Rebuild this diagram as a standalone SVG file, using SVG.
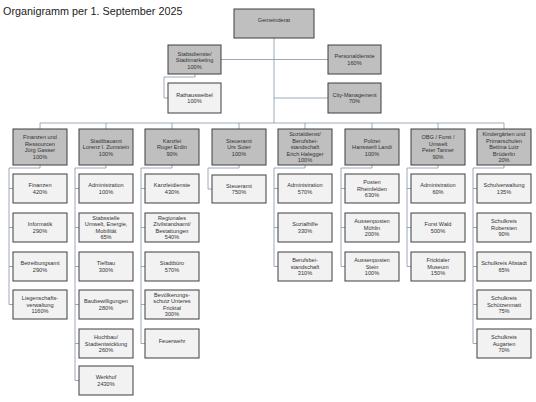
<svg xmlns="http://www.w3.org/2000/svg" width="536" height="402" viewBox="0 0 536 402">
<style>
.h{fill:#bfbfbf;stroke:#3f3f3f;stroke-width:1}
.s{fill:#f2f2f2;stroke:#3f3f3f;stroke-width:1}
.t{font-family:"Liberation Sans",Arial,sans-serif;font-size:5.6px;fill:#333;text-anchor:middle}
.c{fill:none;stroke:#8394aa;stroke-width:0.8}
</style>
<rect width="536" height="402" fill="#fff"/>
<text x="3" y="15" font-family="Liberation Sans, Arial, sans-serif" font-size="10.8" fill="#222">Organigramm per 1. September 2025</text>
<g id="connectors">
<path class="c" d="M274 38V123M40 123H504M40 123V129M106 123V129M172 123V129M239 123V129M305 123V129M372 123V129M438 123V129M504 123V129"/>
<path class="c" d="M221 59.5H328M274 98H328M195 74V77H164V98H168"/>
<path class="c" d="M40 165V168H9V304.5M9 188.5H13M9 227.5H13M9 266.5H13M9 304.5H13"/>
<path class="c" d="M106 165V168H75V380.5M75 188.5H79M75 227.5H79M75 266.5H79M75 304.5H79M75 343.5H79M75 380.5H79"/>
<path class="c" d="M172 165V168H141V343.5M141 188.5H145M141 227.5H145M141 266.5H145M141 304.5H145M141 343.5H145"/>
<path class="c" d="M239 165V168H208V189H212"/>
<path class="c" d="M305 165V168H274V266.5M274 188.5H278M274 227.5H278M274 266.5H278"/>
<path class="c" d="M372 165V168H341V266.5M341 188.5H345M341 227.5H345M341 266.5H345"/>
<path class="c" d="M438 165V168H407V266.5M407 188.5H411M407 227.5H411M407 266.5H411"/>
<path class="c" d="M504 165V168H473V343.5M473 188.5H477M473 227.5H477M473 266.5H477M473 304.5H477M473 343.5H477"/>
</g>
<g id="gemeinderat"><rect class="h" x="234" y="9" width="80" height="29"/><text class="t"><tspan x="274" y="22">Gemeinderat</tspan></text></g>
<g id="stabsdienste"><rect class="h" x="168" y="45" width="53" height="29"/><text class="t"><tspan x="194.5" y="55.5">Stabsdienste/</tspan><tspan x="194.5" y="62">Stadtmarketing</tspan><tspan x="194.5" y="68.5">100%</tspan></text></g>
<g id="personaldienste"><rect class="h" x="328" y="45" width="53" height="29"/><text class="t"><tspan x="354.5" y="58.3">Personaldienste</tspan><tspan x="354.5" y="64.8">160%</tspan></text></g>
<g id="rathausweibel"><rect class="s" x="168" y="83" width="53" height="30"/><text class="t"><tspan x="194.5" y="96.8">Rathausweibel</tspan><tspan x="194.5" y="103.3">100%</tspan></text></g>
<g id="citymanagement"><rect class="h" x="328" y="83" width="53" height="30"/><text class="t"><tspan x="354.5" y="96.8">City-Management</tspan><tspan x="354.5" y="103.3">70%</tspan></text></g>

<g id="finanzen-head"><rect class="h" x="13" y="129" width="54" height="36"/><text class="t"><tspan x="40" y="139.25">Finanzen und</tspan><tspan x="40" y="145.75">Ressourcen</tspan><tspan x="40" y="152.25">Jürg Gasser</tspan><tspan x="40" y="158.75">100%</tspan></text></g>
<g id="finanzen"><rect class="s" x="13" y="174" width="54" height="29"/><text class="t"><tspan x="40" y="187.25">Finanzen</tspan><tspan x="40" y="193.75">420%</tspan></text></g>
<g id="informatik"><rect class="s" x="13" y="213" width="54" height="29"/><text class="t"><tspan x="40" y="226.25">Informatik</tspan><tspan x="40" y="232.75">290%</tspan></text></g>
<g id="betreibungsamt"><rect class="s" x="13" y="252" width="54" height="29"/><text class="t"><tspan x="40" y="265.25">Betreibungsamt</tspan><tspan x="40" y="271.75">290%</tspan></text></g>
<g id="liegenschaften"><rect class="s" x="13" y="290" width="54" height="29"/><text class="t"><tspan x="40" y="300">Liegenschafts-</tspan><tspan x="40" y="306.5">verwaltung</tspan><tspan x="40" y="313">1160%</tspan></text></g>

<g id="stadtbauamt-head"><rect class="h" x="79" y="129" width="54" height="36"/><text class="t"><tspan x="106" y="142.5">Stadtbauamt</tspan><tspan x="106" y="149">Lorenz I. Zumstein</tspan><tspan x="106" y="155.5">100%</tspan></text></g>
<g id="sba-admin"><rect class="s" x="79" y="174" width="54" height="29"/><text class="t"><tspan x="106" y="187.25">Administration</tspan><tspan x="106" y="193.75">100%</tspan></text></g>
<g id="stabsstelle"><rect class="s" x="79" y="213" width="54" height="29"/><text class="t"><tspan x="106" y="219.75">Stabsstelle</tspan><tspan x="106" y="226.25">Umwelt, Energie,</tspan><tspan x="106" y="232.75">Mobilität</tspan><tspan x="106" y="239.25">65%</tspan></text></g>
<g id="tiefbau"><rect class="s" x="79" y="252" width="54" height="29"/><text class="t"><tspan x="106" y="265.25">Tiefbau</tspan><tspan x="106" y="271.75">300%</tspan></text></g>
<g id="baubewilligungen"><rect class="s" x="79" y="290" width="54" height="29"/><text class="t"><tspan x="106" y="303.25">Baubewilligungen</tspan><tspan x="106" y="309.75">280%</tspan></text></g>
<g id="hochbau"><rect class="s" x="79" y="329" width="54" height="29"/><text class="t"><tspan x="106" y="339">Hochbau/</tspan><tspan x="106" y="345.5">Stadtentwicklung</tspan><tspan x="106" y="352">260%</tspan></text></g>
<g id="werkhof"><rect class="s" x="79" y="366" width="54" height="29"/><text class="t"><tspan x="106" y="379.25">Werkhof</tspan><tspan x="106" y="385.75">2430%</tspan></text></g>

<g id="kanzlei-head"><rect class="h" x="145" y="129" width="54" height="36"/><text class="t"><tspan x="172" y="142.5">Kanzlei</tspan><tspan x="172" y="149">Roger Erdin</tspan><tspan x="172" y="155.5">90%</tspan></text></g>
<g id="kanzleidienste"><rect class="s" x="145" y="174" width="54" height="29"/><text class="t"><tspan x="172" y="187.25">Kanzleidienste</tspan><tspan x="172" y="193.75">430%</tspan></text></g>
<g id="zivilstandsamt"><rect class="s" x="145" y="213" width="54" height="29"/><text class="t"><tspan x="172" y="219.75">Regionales</tspan><tspan x="172" y="226.25">Zivilstandsamt/</tspan><tspan x="172" y="232.75">Bestattungen</tspan><tspan x="172" y="239.25">540%</tspan></text></g>
<g id="stadtbuero"><rect class="s" x="145" y="252" width="54" height="29"/><text class="t"><tspan x="172" y="265.25">Stadtbüro</tspan><tspan x="172" y="271.75">570%</tspan></text></g>
<g id="bevoelkerungsschutz"><rect class="s" x="145" y="290" width="54" height="29"/><text class="t"><tspan x="172" y="296.75">Bevölkerungs-</tspan><tspan x="172" y="303.25">schutz Unteres</tspan><tspan x="172" y="309.75">Fricktal</tspan><tspan x="172" y="316.25">300%</tspan></text></g>
<g id="feuerwehr"><rect class="s" x="145" y="329" width="54" height="29"/><text class="t"><tspan x="172" y="343">Feuerwehr</tspan></text></g>

<g id="steueramt-head"><rect class="h" x="212" y="129" width="54" height="36"/><text class="t"><tspan x="239" y="142.5">Steueramt</tspan><tspan x="239" y="149">Urs Suter</tspan><tspan x="239" y="155.5">100%</tspan></text></g>
<g id="steueramt"><rect class="s" x="212" y="175" width="54" height="28"/><text class="t"><tspan x="239" y="187.75">Steueramt</tspan><tspan x="239" y="194.25">750%</tspan></text></g>

<g id="sozialdienst-head"><rect class="h" x="278" y="129" width="54" height="36"/><text class="t"><tspan x="305" y="136">Sozialdienst/</tspan><tspan x="305" y="142.5">Berufsbei-</tspan><tspan x="305" y="149">standschaft</tspan><tspan x="305" y="155.5">Erich Halegger</tspan><tspan x="305" y="162">100%</tspan></text></g>
<g id="soz-admin"><rect class="s" x="278" y="174" width="54" height="29"/><text class="t"><tspan x="305" y="187.25">Administration</tspan><tspan x="305" y="193.75">570%</tspan></text></g>
<g id="sozialhilfe"><rect class="s" x="278" y="213" width="54" height="29"/><text class="t"><tspan x="305" y="226.25">Sozialhilfe</tspan><tspan x="305" y="232.75">330%</tspan></text></g>
<g id="berufsbeistandschaft"><rect class="s" x="278" y="252" width="54" height="29"/><text class="t"><tspan x="305" y="262">Berufsbei-</tspan><tspan x="305" y="268.5">standschaft</tspan><tspan x="305" y="275">310%</tspan></text></g>

<g id="polizei-head"><rect class="h" x="345" y="129" width="54" height="36"/><text class="t"><tspan x="372" y="142.5">Polizei</tspan><tspan x="372" y="149">Hanswerli Landi</tspan><tspan x="372" y="155.5">100%</tspan></text></g>
<g id="rheinfelden"><rect class="s" x="345" y="174" width="54" height="29"/><text class="t"><tspan x="372" y="184">Posten</tspan><tspan x="372" y="190.5">Rheinfelden</tspan><tspan x="372" y="197">630%</tspan></text></g>
<g id="moehlin"><rect class="s" x="345" y="213" width="54" height="29"/><text class="t"><tspan x="372" y="223">Aussenposten</tspan><tspan x="372" y="229.5">Möhlin</tspan><tspan x="372" y="236">200%</tspan></text></g>
<g id="stein"><rect class="s" x="345" y="252" width="54" height="29"/><text class="t"><tspan x="372" y="262">Aussenposten</tspan><tspan x="372" y="268.5">Stein</tspan><tspan x="372" y="275">100%</tspan></text></g>

<g id="obg-head"><rect class="h" x="411" y="129" width="54" height="36"/><text class="t"><tspan x="438" y="139.25">OBG / Forst /</tspan><tspan x="438" y="145.75">Umwelt</tspan><tspan x="438" y="152.25">Peter Tanner</tspan><tspan x="438" y="158.75">90%</tspan></text></g>
<g id="obg-admin"><rect class="s" x="411" y="174" width="54" height="29"/><text class="t"><tspan x="438" y="187.25">Administration</tspan><tspan x="438" y="193.75">60%</tspan></text></g>
<g id="forstwald"><rect class="s" x="411" y="213" width="54" height="29"/><text class="t"><tspan x="438" y="226.25">Forst Wald</tspan><tspan x="438" y="232.75">500%</tspan></text></g>
<g id="museum"><rect class="s" x="411" y="252" width="54" height="29"/><text class="t"><tspan x="438" y="262">Fricktaler</tspan><tspan x="438" y="268.5">Museum</tspan><tspan x="438" y="275">150%</tspan></text></g>

<g id="kindergaerten-head"><rect class="h" x="477" y="129" width="54" height="36"/><text class="t"><tspan x="504" y="136">Kindergärten und</tspan><tspan x="504" y="142.5">Primarschulen</tspan><tspan x="504" y="149">Bettina Lutz</tspan><tspan x="504" y="155.5">Brüderlin</tspan><tspan x="504" y="162">20%</tspan></text></g>
<g id="schulverwaltung"><rect class="s" x="477" y="174" width="54" height="29"/><text class="t"><tspan x="504" y="187.25">Schulverwaltung</tspan><tspan x="504" y="193.75">135%</tspan></text></g>
<g id="robersten"><rect class="s" x="477" y="213" width="54" height="29"/><text class="t"><tspan x="504" y="223">Schulkreis</tspan><tspan x="504" y="229.5">Robersten</tspan><tspan x="504" y="236">90%</tspan></text></g>
<g id="altstadt"><rect class="s" x="477" y="252" width="54" height="29"/><text class="t"><tspan x="504" y="265.25">Schulkreis Altstadt</tspan><tspan x="504" y="271.75">65%</tspan></text></g>
<g id="schuetzenmatt"><rect class="s" x="477" y="290" width="54" height="29"/><text class="t"><tspan x="504" y="300">Schulkreis</tspan><tspan x="504" y="306.5">Schützenmatt</tspan><tspan x="504" y="313">75%</tspan></text></g>
<g id="augarten"><rect class="s" x="477" y="329" width="54" height="29"/><text class="t"><tspan x="504" y="339">Schulkreis</tspan><tspan x="504" y="345.5">Augarten</tspan><tspan x="504" y="352">70%</tspan></text></g>
</svg>
